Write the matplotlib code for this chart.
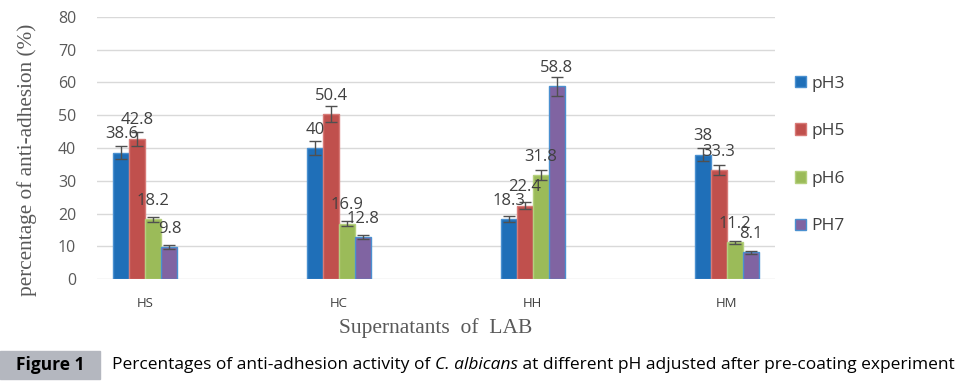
import numpy as np
import matplotlib
matplotlib.use('Agg')
from matplotlib import pyplot as plt
from matplotlib.patches import Rectangle

# data
groups = ['HS', 'HC', 'HH', 'HM']
series = ['pH3', 'pH5', 'pH6', 'PH7']
values = {'pH3': [38.6, 40.0, 18.3, 38.0],
          'pH5': [42.8, 50.4, 22.4, 33.3],
          'pH6': [18.2, 16.9, 31.8, 11.2],
          'PH7': [9.8, 12.8, 58.8, 8.1]}
errors = {'pH3': [2.0, 2.0, 0.9, 2.0],
          'pH5': [2.1, 2.4, 1.05, 1.6],
          'pH6': [0.75, 0.85, 1.5, 0.55],
          'PH7': [0.5, 0.6, 2.9, 0.55]}
labels = {'pH3': ['38.6', '40', '18.3', '38'],
          'pH5': ['42.8', '50.4', '22.4', '33.3'],
          'pH6': ['18.2', '16.9', '31.8', '11.2'],
          'PH7': ['9.8', '12.8', '58.8', '8.1']}
colors = {'pH3': '#1F6FB8', 'pH5': '#C0504D', 'pH6': '#9BBB59', 'PH7': '#8064A2'}
edges = {'pH3': '#4A90D0', 'pH5': '#D87A77', 'pH6': '#B5D07E', 'PH7': '#4A90D0'}

fig = plt.figure(figsize=(9.64, 3.85), dpi=100)
ax = fig.add_axes([97 / 964, 1 - 279 / 385, 678 / 964, 262 / 385])

x = np.arange(len(groups))
w = 0.0825
textcol = '#404040'
for i, s in enumerate(series):
    pos = x + (i - 1.5) * w
    ax.bar(pos, values[s], width=w, color=colors[s], edgecolor=edges[s],
           linewidth=1.0, label=s, zorder=3)
    ax.errorbar(pos, values[s], yerr=errors[s], fmt='none', ecolor='#505050',
                elinewidth=1.0, capsize=4, capthick=1.0, zorder=4)
    for p, v, t in zip(pos, values[s], labels[s]):
        ax.text(p, v + 5.6, t, ha='center', va='center', fontsize=12,
                color=textcol, family='Open Sans', zorder=5)

ax.set_xlim(-0.25, 3.25)
ax.set_ylim(0, 80)
ax.set_yticks(np.arange(0, 81, 10))
ax.set_xticks(x)
ax.set_xticklabels(groups, fontsize=9.5, color='#404040', family='Open Sans')
ax.tick_params(axis='y', labelsize=11.5, colors='#595959', length=0, pad=15)
ax.tick_params(axis='x', length=0, pad=13)
for lab in ax.get_yticklabels():
    lab.set_family('Open Sans')
ax.grid(axis='y', color='#D9D9D9', linewidth=1.0, zorder=0)
for sp in ax.spines.values():
    sp.set_visible(False)

ax.set_ylabel('percentage of anti-adhesion (%)', family='Liberation Serif',
              fontsize=15.3, color='#595959')
ax.yaxis.set_label_coords(-0.0885, 0.454)
ax.set_xlabel('Supernatants  of  LAB', family='Liberation Serif',
              fontsize=15.5, color='#595959', labelpad=6)

leg = fig.legend(loc='upper left', bbox_to_anchor=(779 / 964, 1 - 60 / 385),
                 frameon=False, handlelength=0.65, handleheight=0.65,
                 handletextpad=0.3, labelspacing=1.82,
                 prop={'family': 'Open Sans', 'size': 12.5})
for t in leg.get_texts():
    t.set_color('#404040')

# caption bar
fig.patches.append(Rectangle((0, 1 - 379 / 385), 100 / 964, 28 / 385,
                             transform=fig.transFigure, color='#B4B7BF', zorder=0))
fig.text(50 / 964, 1 - 365 / 385, 'Figure 1', ha='center', va='center',
         fontsize=12.5, weight='bold', color='black', family='Open Sans')

cap_parts = [('Percentages of anti-adhesion activity of ', 'normal'),
             ('C. albicans', 'italic'),
             (' at different pH adjusted after pre-coating experiment', 'normal')]
renderer = fig.canvas.get_renderer()
xpos = 112
for txt, style in cap_parts:
    t = fig.text(xpos / 964, 1 - 365 / 385, txt, ha='left', va='center',
                 fontsize=12.5, style=style, color='black', family='Open Sans')
    xpos += t.get_window_extent(renderer).width

fig.savefig('out.png', dpi=100)
